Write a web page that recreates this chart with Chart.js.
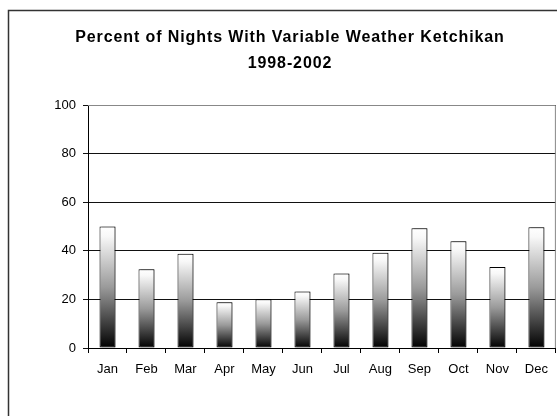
<!DOCTYPE html>
<html>
<head>
<meta charset="utf-8">
<script src="https://cdn.jsdelivr.net/npm/chart.js@4/dist/chart.umd.min.js"></script>
<style>
html,body{margin:0;padding:0;background:#fff;}
#wrap{width:557px;height:416px;position:relative;}
</style>
</head>
<body>
<div id="wrap"><canvas id="c" width="557" height="416"></canvas></div>
<script>
const titleLines = ["Percent of Nights With Variable Weather Ketchikan", "1998-2002"];
const months = ["Jan","Feb","Mar","Apr","May","Jun","Jul","Aug","Sep","Oct","Nov","Dec"];
const percentVariable = [50, 32.4, 38.8, 18.8, 20.1, 23.3, 30.7, 39.2, 49.3, 43.9, 33.3, 49.7];
const yTicks = [0, 20, 40, 60, 80, 100];

const FONT = "'Liberation Sans', Arial, sans-serif";

const decor = {
  id: 'decor',
  beforeDraw(chart) {
    const ctx = chart.ctx;
    ctx.save();
    ctx.fillStyle = '#fff';
    ctx.fillRect(0, 0, chart.width, chart.height);
    ctx.strokeStyle = '#333';
    ctx.lineWidth = 1.5;
    ctx.strokeRect(8.5, 10.5, 700, 600);
    ctx.fillStyle = '#000';
    ctx.font = 'bold 16px ' + FONT;
    try { ctx.letterSpacing = '0.9px'; } catch (e) {}
    ctx.textAlign = 'center';
    ctx.textBaseline = 'alphabetic';
    ctx.fillText(titleLines[0], 290, 42);
    ctx.fillText(titleLines[1], 290, 68);
    ctx.restore();
  },
  beforeDatasetsDraw(chart) {
    const ctx = chart.ctx;
    const a = chart.chartArea;
    ctx.save();
    ctx.strokeStyle = '#888';
    ctx.lineWidth = 1;
    ctx.beginPath();
    ctx.moveTo(a.left, a.top + 0.5);
    ctx.lineTo(a.right - 0.5, a.top + 0.5);
    ctx.lineTo(a.right - 0.5, a.bottom);
    ctx.stroke();
    ctx.shadowColor = 'rgba(0,0,0,0.35)';
    ctx.shadowOffsetX = 2;
    ctx.shadowOffsetY = 0;
    ctx.shadowBlur = 0;
  },
  afterDatasetsDraw(chart) {
    chart.ctx.restore();
  }
};

function barGradient(context) {
  const chart = context.chart;
  const a = chart.chartArea;
  if (!a) return '#888';
  const y = chart.scales.y;
  const v = context.raw;
  const top = y.getPixelForValue(v);
  const bot = y.getPixelForValue(0);
  const g = chart.ctx.createLinearGradient(0, top, 0, bot);
  g.addColorStop(0, '#ffffff');
  g.addColorStop(0.08, '#f8f8f8');
  g.addColorStop(0.5, '#9a9a9a');
  g.addColorStop(1, '#000000');
  return g;
}

new Chart(document.getElementById('c'), {
  type: 'bar',
  data: {
    labels: months,
    datasets: [{
      data: percentVariable,
      backgroundColor: barGradient,
      borderColor: '#000',
      borderWidth: 1,
      borderSkipped: false,
      barPercentage: 0.41,
      categoryPercentage: 1.0
    }]
  },
  options: {
    responsive: false,
    animation: false,
    layout: { padding: { top: 105, left: 0, right: 1, bottom: 38 } },
    plugins: { legend: { display: false }, title: { display: false }, tooltip: { enabled: false } },
    scales: {
      x: {
        offset: true,
        grid: { display: true, offset: true, drawOnChartArea: false, drawTicks: true, tickLength: 5, color: '#000' },
        border: { display: true, color: '#000', width: 1 },
        ticks: { color: '#000', font: { family: FONT, size: 13 }, padding: 9, maxRotation: 0 },
        afterFit(s) { s.height = 30; }
      },
      y: {
        min: 0, max: 100,
        afterBuildTicks(s) { s.ticks = yTicks.map(v => ({ value: v })); },
        grid: { color: '#111', lineWidth: 1, tickLength: 5, drawTicks: true },
        border: { display: true, color: '#000', width: 1 },
        ticks: { color: '#000', font: { family: FONT, size: 13 }, padding: 7 },
        afterFit(s) { s.width = 88; }
      }
    }
  },
  plugins: [decor]
});
</script>
</body>
</html>
